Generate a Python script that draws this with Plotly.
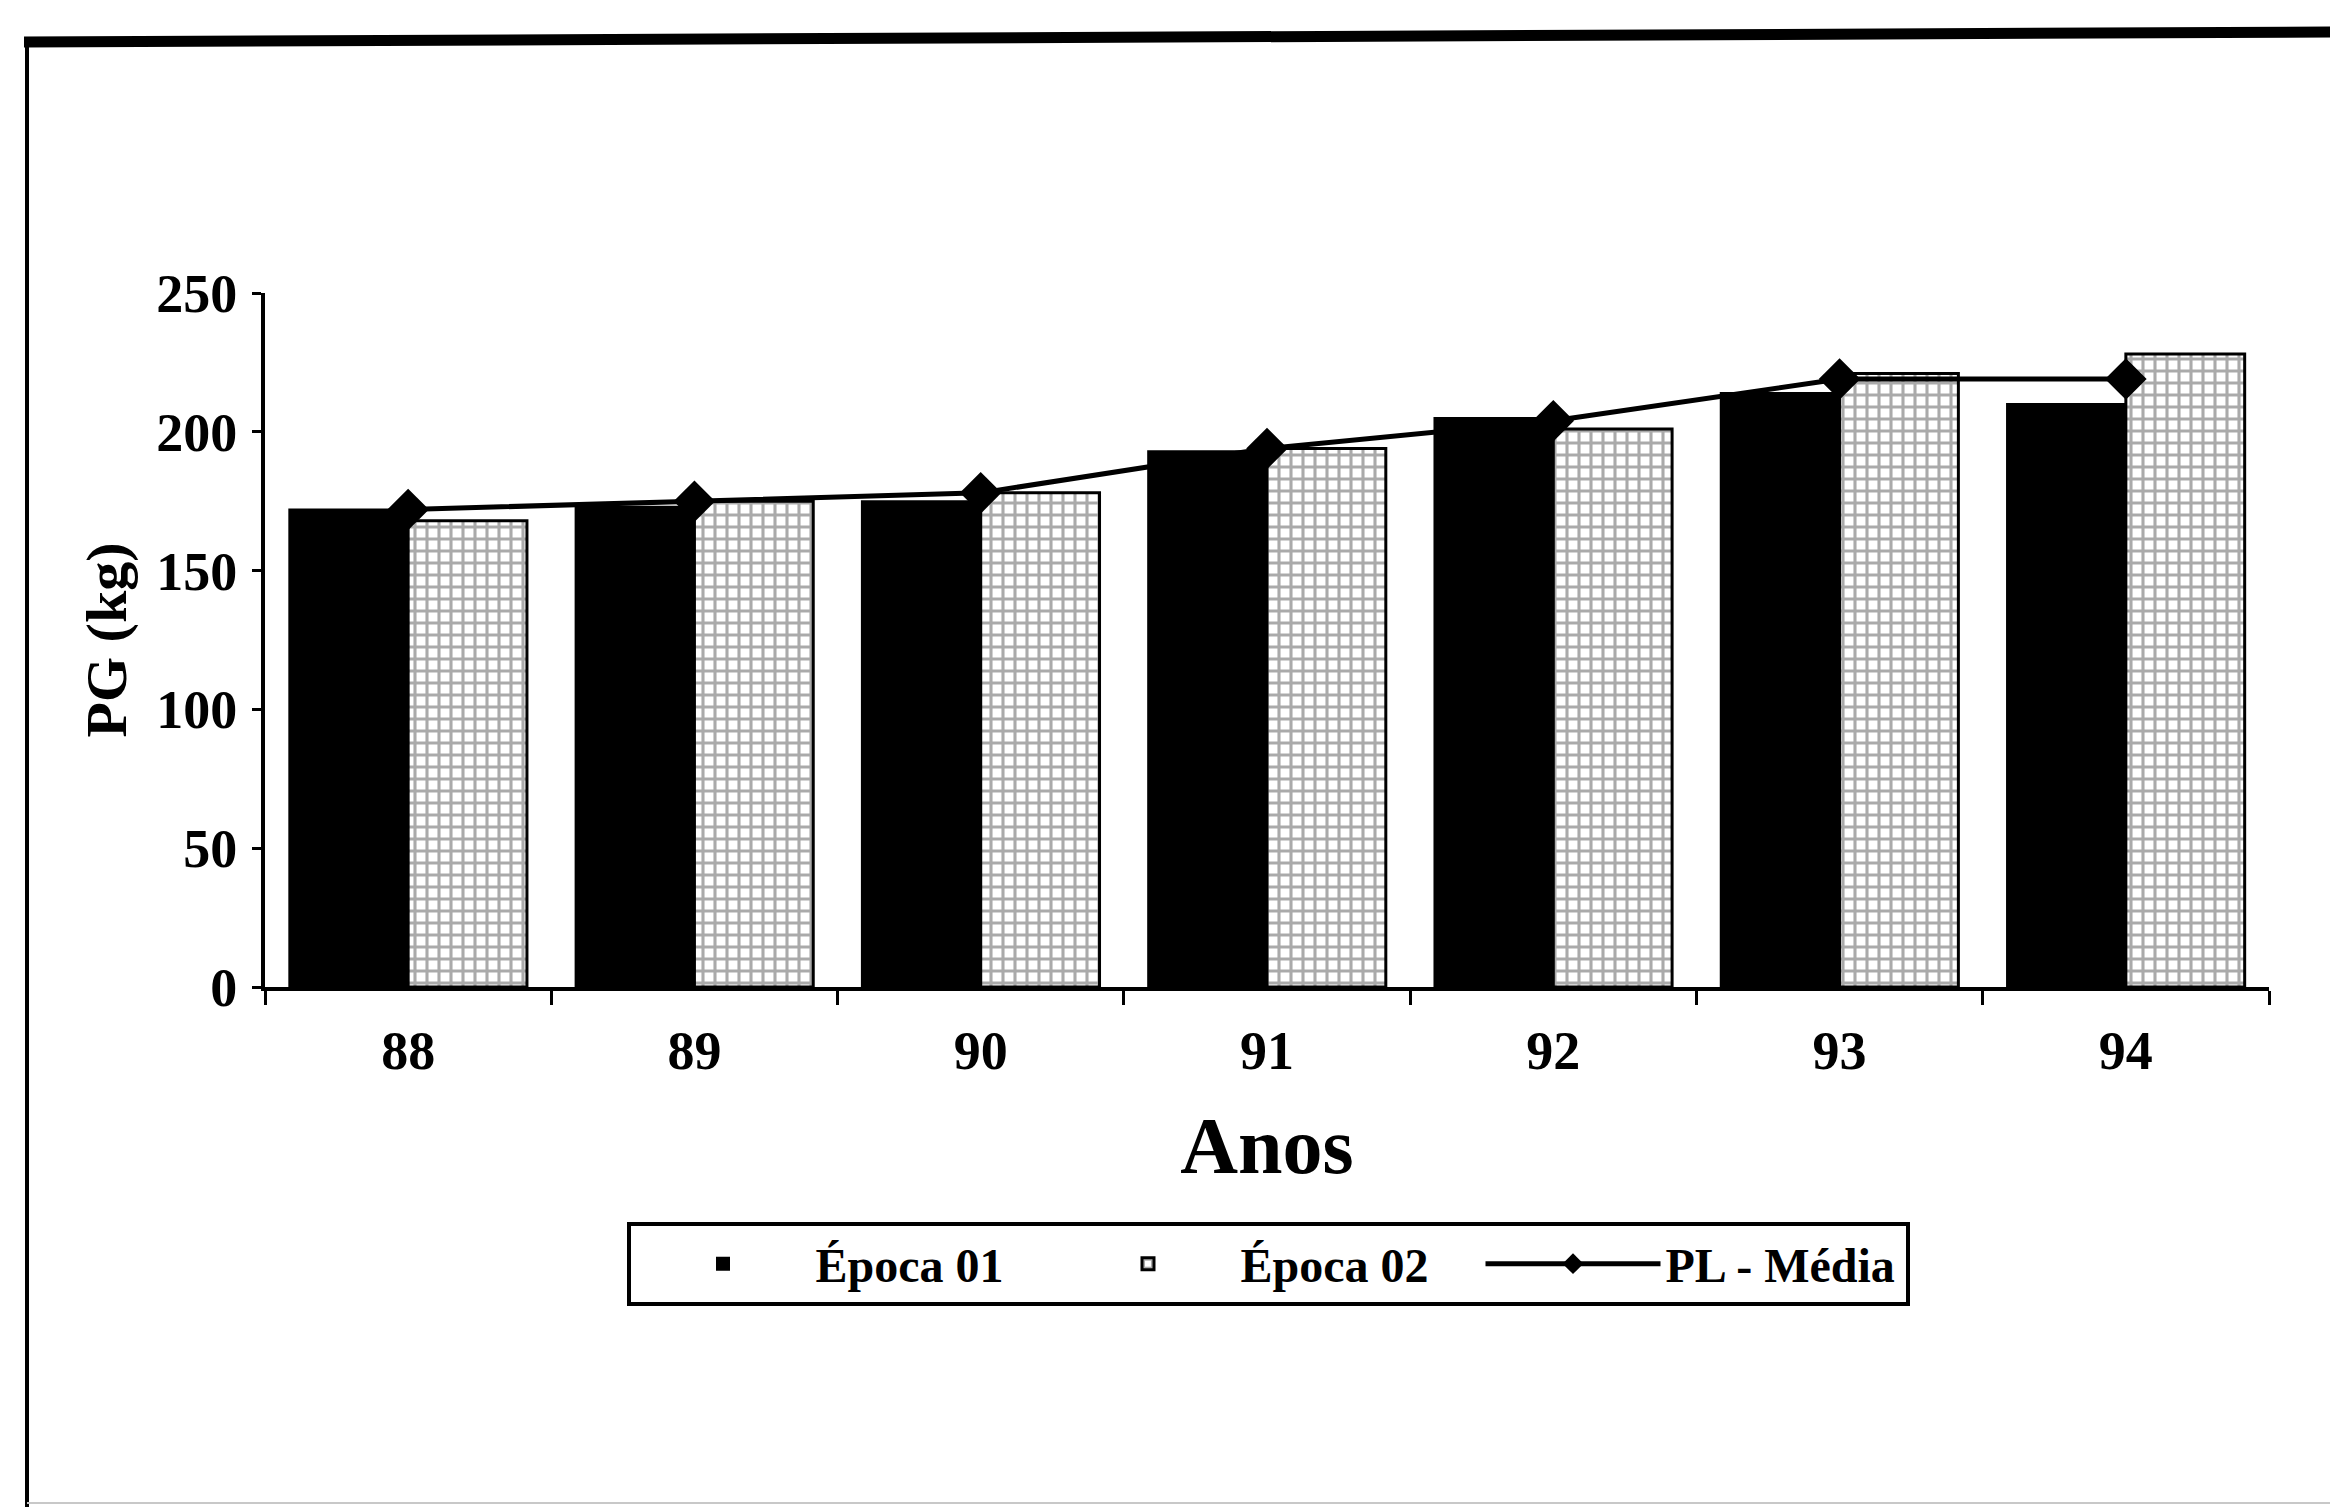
import plotly.graph_objects as go

# ---- data ----
years = ["88", "89", "90", "91", "92", "93", "94"]
epoca01 = [172, 173, 175, 193, 205, 214, 210]
epoca02 = [168, 175, 178, 194, 201, 221, 228]
pl_media = [172, 175, 178, 194, 204, 219, 219]
y_ticks = [0, 50, 100, 150, 200, 250]

FONT = "Liberation Serif"
W, H = 2338, 1507
OFF = 8  # page body margin offset compensation
# target plot area in page pixels
PX0, PX1 = 265, 2269
PY0, PY1 = 293, 987
L, T = PX0 - OFF, PY0 - OFF
R = W - (PX1 - OFF)
B = H - (PY1 - OFF)
PW, PH = PX1 - PX0, PY1 - PY0


def px_x(px):
    return (px - PX0) / PW


def px_y(py):
    return (PY1 - py) / PH


fig = go.Figure()
fig.add_bar(
    x=years, y=epoca01, name="Época 01",
    marker=dict(color="black", line=dict(color="black", width=2)),
)
fig.add_bar(
    x=years, y=epoca02, name="Época 02",
    marker=dict(color="white", line=dict(color="black", width=3),
                pattern=dict(shape="+", fgcolor="#555555", bgcolor="white",
                             size=12, solidity=0.45)),
)
fig.add_scatter(
    x=years, y=pl_media, name="PL - Média", mode="lines+markers",
    line=dict(color="black", width=5),
    marker=dict(symbol="diamond", size=32, color="black"),
)

boundaries = [i - 0.5 for i in range(len(years) + 1)]

fig.update_layout(
    width=W, height=H, autosize=False,
    margin=dict(l=L, r=R, t=T, b=B),
    paper_bgcolor="white", plot_bgcolor="white",
    barmode="group", bargap=0.17, bargroupgap=0,
    font=dict(family=FONT, color="black", size=48, weight=700),
    showlegend=True,
    legend=dict(
        orientation="h", x=px_x(1268), xanchor="center",
        y=px_y(1222), yanchor="top",
        bordercolor="black", borderwidth=4, bgcolor="white",
        font=dict(family=FONT, size=48, color="black", weight=700),
        itemwidth=175, entrywidth=235, entrywidthmode="pixels",
        traceorder="normal",
    ),
    xaxis=dict(
        type="category", range=[-0.5, len(years) - 0.5],
        showline=True, linecolor="black", linewidth=4,
        ticks="outside", tickson="boundaries", ticklen=14, tickwidth=3,
        tickcolor="black", showgrid=False, zeroline=False,
        tickfont=dict(family=FONT, size=54, color="black", weight=700),
        ticklabelstandoff=13,
        title=dict(text="Anos", standoff=38,
                   font=dict(family=FONT, size=80, color="black", weight=700)),
    ),
    yaxis=dict(
        range=[0, 250], tickvals=y_ticks,
        showline=True, linecolor="black", linewidth=4,
        ticks="outside", ticklen=9, tickwidth=3, tickcolor="black",
        showgrid=False, zeroline=False,
        tickfont=dict(family=FONT, size=54, color="black", weight=700),
        ticklabelstandoff=4,
        title=dict(text="PG (kg)", standoff=12,
                   font=dict(family=FONT, size=58, color="black", weight=700)),
    ),
    xaxis2=dict(
        overlaying="x", anchor="y", side="bottom",
        range=[-0.5, len(years) - 0.5], tickvals=boundaries,
        ticks="inside", ticklen=12, tickwidth=3, tickcolor="black",
        showticklabels=False, showline=False, showgrid=False, zeroline=False,
    ),
    yaxis2=dict(
        overlaying="y", anchor="x", side="left",
        range=[0, 250], tickvals=y_ticks,
        ticks="inside", ticklen=9, tickwidth=3, tickcolor="black",
        showticklabels=False, showline=False, showgrid=False, zeroline=False,
    ),
    shapes=[
        dict(type="line", xref="paper", yref="paper",
             x0=px_x(24), y0=px_y(42), x1=px_x(2345), y1=px_y(32),
             line=dict(color="black", width=11)),
        dict(type="line", xref="paper", yref="paper",
             x0=px_x(27), y0=px_y(38), x1=px_x(27), y1=px_y(1510),
             line=dict(color="black", width=4)),
        dict(type="line", xref="paper", yref="paper",
             x0=px_x(27), y0=px_y(1503), x1=px_x(2345), y1=px_y(1503),
             line=dict(color="#c8c8c8", width=2)),
    ],
)

fig.write_html("out.html")
